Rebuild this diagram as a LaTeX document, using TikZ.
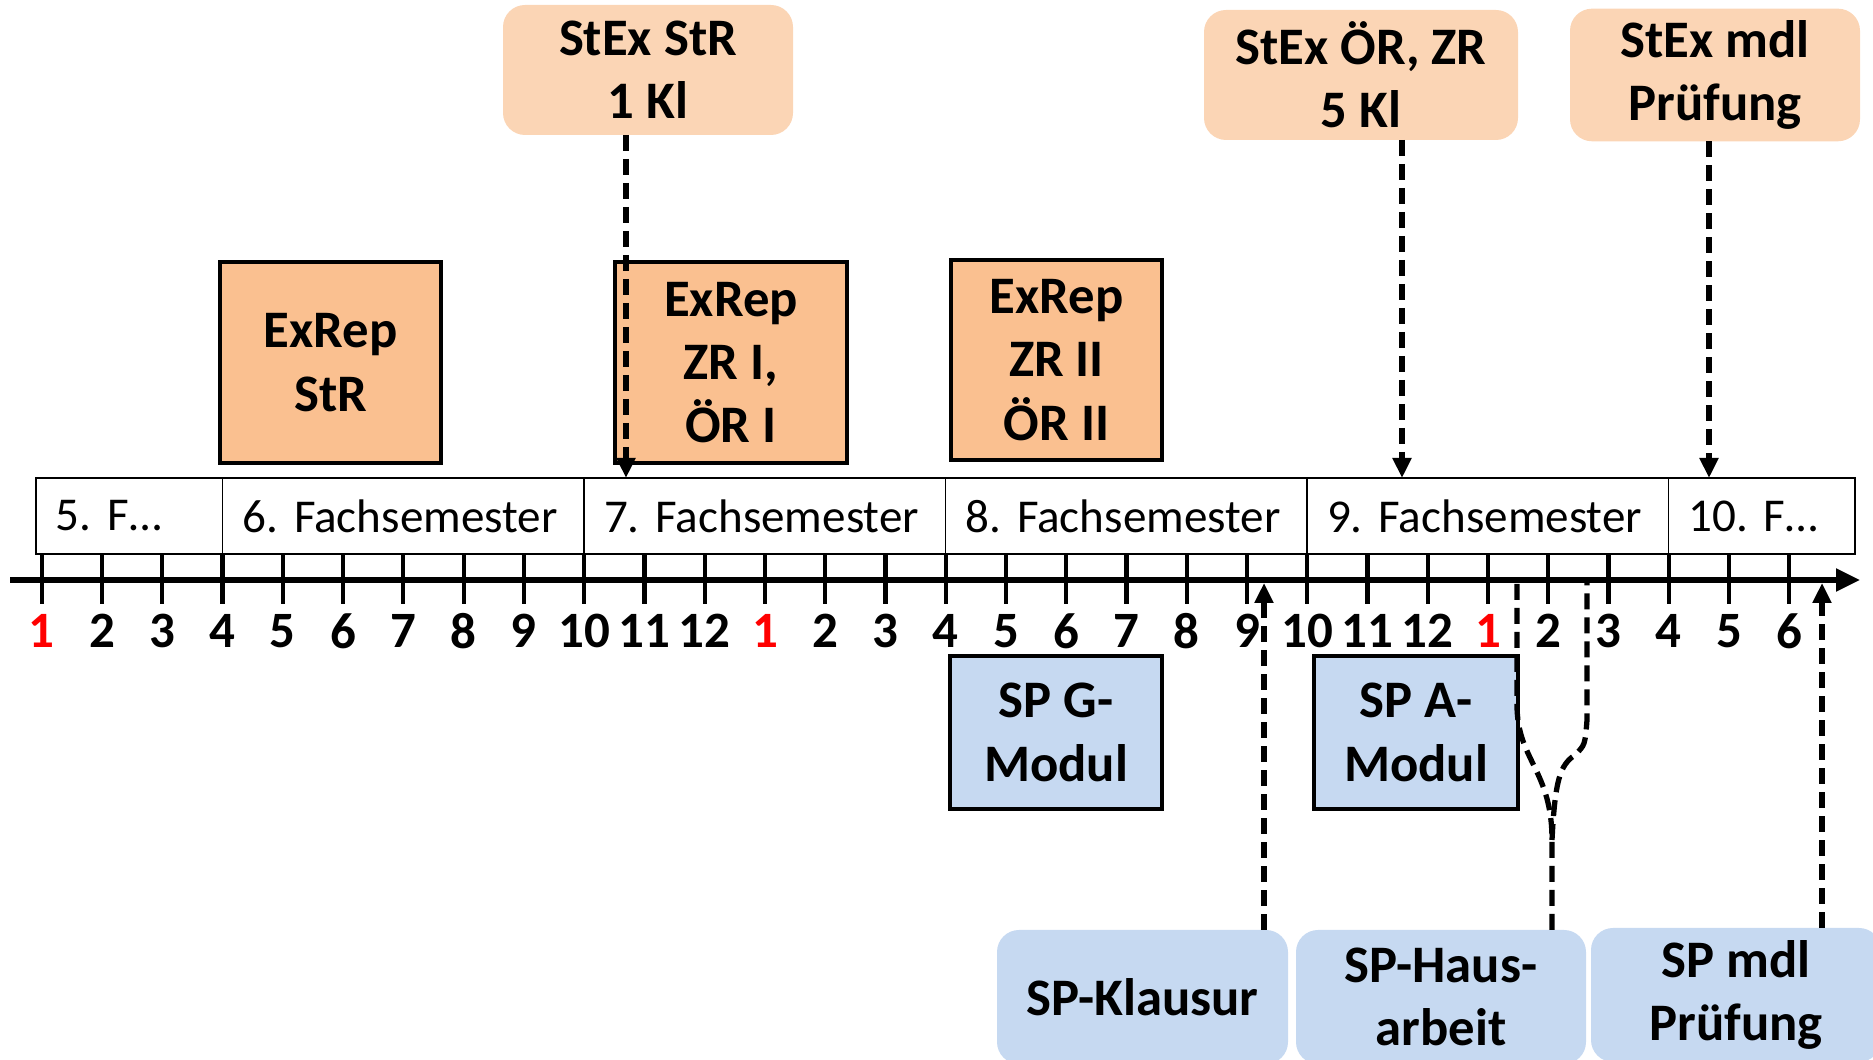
\documentclass[tikz,border=0pt]{standalone}
\usepackage{fontspec}
\setmainfont{Carlito}
\usepackage{xcolor}
\usepackage{tikz}
\usetikzlibrary{arrows.meta,positioning}

\definecolor{stexfill}{HTML}{FBD5B5}
\definecolor{repfill}{HTML}{FAC090}
\definecolor{spfill}{HTML}{C6D9F1}

\begin{document}
\frenchspacing
\begin{tikzpicture}[
	every node/.style={outer sep=0pt},
	sem/.style={draw, line width=0.5pt, minimum height=0.76cm, inner xsep=0.2cm,
		text width=#1, align=left, font=\fontsize{13.4}{16}\selectfont},
	boxfont/.style={align=center, font=\fontsize{15}{18}\selectfont\bfseries},
	rep/.style={boxfont, draw, line width=1.3pt, fill=repfill},
	stex/.style={boxfont, fill=stexfill, rounded corners=0.22cm},
	spmod/.style={boxfont, draw, line width=1.3pt, fill=spfill},
	spex/.style={boxfont, fill=spfill, rounded corners=0.22cm},
	month/.style={font=\fontsize{14.5}{15}\selectfont\bfseries},
	dashline/.style={line width=1.5pt, dash pattern=on 0.16cm off 0.08cm},
	dasharrow/.style={dashline, -{Triangle[length=0.2cm,width=0.18cm]}}
	]
	\useasboundingbox (0,0) rectangle (18.73,10.60);
	\clip (0,0) rectangle (18.73,10.60);
	%
	% semesters
	\node[sem=1.466cm, anchor=west] (s5) at (0.36,5.44) {\mbox{5. F…}};
	\node[sem=3.215cm, right=0pt of s5] (s6) {\mbox{6. Fachsemester}};
	\node[sem=3.215cm, right=0pt of s6] (s7) {\mbox{7. Fachsemester}};
	\node[sem=3.215cm, right=0pt of s7] (s8) {\mbox{8. Fachsemester}};
	\node[sem=3.215cm, right=0pt of s8] (s9) {\mbox{9. Fachsemester}};
	\node[sem=1.462cm, right=0pt of s9] (s10) {\mbox{10. F…}};
	%
	% time axis
	\coordinate (ax0) at (0.10,4.80);
	\coordinate (ax1) at (18.60,4.80);
	\draw[line width=1.5pt, -{Triangle[length=0.24cm,width=0.22cm]}] (ax0) -- (ax1);
	\foreach \m [count=\i from 0] in {1,2,3,4,5,6,7,8,9,10,11,12,1,2,3,4,5,6,7,8,9,10,11,12,1,2,3,4,5,6} {
		\draw[line width=1.2pt] (0.418+0.6026*\i,5.06) -- (0.418+0.6026*\i,4.56);
		\node[month] (m\i) at (0.418+0.6026*\i,4.29) {\ifnum\m=1 \color{red}\fi\m};
	}
	%
	% Examensrepetitorium
	\node[rep, minimum width=2.21cm, minimum height=2.01cm] (exstr) at (3.305,6.975) {ExRep\\StR};
	\node[rep, minimum width=2.32cm, minimum height=2.01cm] (exzr) at (7.31,6.975) {ExRep\\ZR I,\\ÖR I};
	\node[rep, minimum width=2.11cm, minimum height=2.00cm] (exzrii) at (10.565,7.00) {ExRep\\ZR II\\ÖR II};
	%
	% Staatsexamen
	\node[stex, minimum width=2.90cm, minimum height=1.30cm] (stexstr) at (6.48,9.90) {StEx StR\\1 Kl};
	\node[stex, minimum width=3.14cm, minimum height=1.30cm] (stexoer) at (13.61,9.85) {StEx ÖR, ZR\\5 Kl};
	\node[stex, minimum width=2.90cm, minimum height=1.30cm] (stexmdl) at (17.15,9.85) {StEx mdl\\Prüfung};
	%
	% Schwerpunkt
	\node[spmod, minimum width=2.12cm, minimum height=1.53cm] (spg) at (10.56,3.275) {SP G-\\Modul};
	\node[spmod, minimum width=2.04cm, minimum height=1.53cm] (spa) at (14.16,3.275) {SP A-\\Modul};
	\node[spex, minimum width=2.91cm, minimum height=1.34cm] (spklausur) at (11.425,0.63) {SP-Klausur};
	\node[spex, minimum width=2.90cm, minimum height=1.34cm] (sphaus) at (14.41,0.63) {SP-Haus-\\arbeit};
	\node[spex, minimum width=2.90cm, minimum height=1.34cm] (spmdl) at (17.36,0.65) {SP mdl\\Prüfung};
	%
	\coordinate (a1) at (6.26,5.82);
	\coordinate (a2) at (14.02,5.82);
	\coordinate (a3) at (17.09,5.82);
	\draw[dasharrow] (stexstr.south -| a1) -- (a1);
	\draw[dasharrow] (stexoer.south -| a2) -- (a2);
	\draw[dasharrow] (stexmdl.south -| a3) -- (a3);
	%
	\coordinate (b1) at (12.64,4.77);
	\coordinate (b2) at (18.22,4.77);
	\draw[dasharrow] (spklausur.north -| b1) -- (b1);
	\draw[dasharrow] (spmdl.north -| b2) -- (b2);
	%
	\coordinate (h0) at (15.52,2.20);
	\coordinate (h1) at (15.17,4.77);
	\coordinate (h2) at (15.87,4.77);
	\draw[dashline] (sphaus.north -| h0) -- (h0)
		.. controls (15.52,2.9) and (15.17,3.0) .. (15.17,3.55) -- (h1);
	\draw[dashline] (h0) .. controls (15.55,2.8) and (15.6,2.95) .. (15.75,3.05)
		.. controls (15.85,3.15) .. (15.87,3.4) -- (h2);
\end{tikzpicture}
\end{document}
